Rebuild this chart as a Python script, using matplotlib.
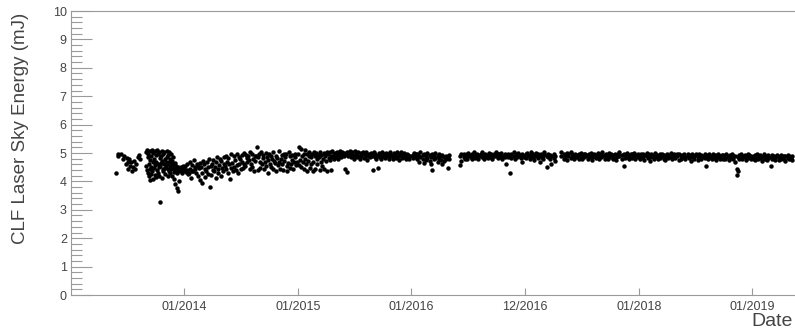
import matplotlib
matplotlib.use('Agg')
import matplotlib.pyplot as plt
from matplotlib.ticker import MultipleLocator

plt.rcParams['font.family'] = ['Liberation Sans', 'DejaVu Sans']

# Fecha en años decimales y energía en mJ, un disparo por entrada (2013-2015)
t_2013 = [2013.398, 2013.417, 2013.423, 2013.446, 2013.461, 2013.474, 2013.488, 2013.497, 2013.505, 2013.511,
          2013.519, 2013.527, 2013.534, 2013.540, 2013.549, 2013.556, 2013.566, 2013.577, 2013.594, 2013.602,
          2013.612,
          2013.665, 2013.668, 2013.672, 2013.676, 2013.679, 2013.683, 2013.685, 2013.689, 2013.692, 2013.697,
          2013.699, 2013.702, 2013.705, 2013.708, 2013.712, 2013.714, 2013.718, 2013.721, 2013.724, 2013.727,
          2013.731, 2013.734, 2013.736, 2013.741, 2013.744, 2013.747, 2013.751, 2013.753, 2013.757, 2013.760,
          2013.764, 2013.767, 2013.770, 2013.774, 2013.776, 2013.781, 2013.783, 2013.787, 2013.790, 2013.793,
          2013.797, 2013.800, 2013.803, 2013.806, 2013.810, 2013.813, 2013.815, 2013.819, 2013.823, 2013.826,
          2013.829, 2013.832, 2013.836, 2013.838, 2013.842, 2013.846, 2013.849, 2013.851, 2013.855, 2013.858,
          2013.862, 2013.865, 2013.868, 2013.872, 2013.875, 2013.879, 2013.881, 2013.885, 2013.888, 2013.892,
          2013.895, 2013.898, 2013.902, 2013.905, 2013.908, 2013.911, 2013.915, 2013.918, 2013.922, 2013.925,
          2013.929, 2013.932, 2013.935, 2013.938, 2013.942, 2013.945, 2013.949, 2013.952, 2013.956, 2013.960,
          2013.964, 2013.968, 2013.972, 2013.977, 2013.981, 2013.986, 2013.990, 2013.994, 2013.998]
e_2013 = [4.28, 4.97, 4.88, 4.98, 4.78, 4.90, 4.62, 4.84, 4.70, 4.45,
          4.80, 4.55, 4.68, 4.38, 4.50, 4.72, 4.42, 4.60, 4.86, 4.94,
          4.78,
          5.02, 4.55, 4.40, 5.10, 4.30, 4.85, 4.95, 4.18, 4.62, 5.08,
          4.45, 4.75, 4.05, 4.90, 4.25, 4.52, 5.12, 4.35, 4.68, 4.10,
          5.00, 4.48, 4.80, 5.06, 4.22, 4.58, 4.92, 4.15, 4.70, 4.40,
          5.10, 4.30, 4.62, 4.98, 4.50, 5.05, 4.20, 4.82, 3.28, 4.55,
          4.88, 4.65, 5.08, 4.12, 4.72, 4.42, 4.95, 4.35, 4.60, 5.04,
          4.48, 4.78, 4.25, 4.70, 4.52, 5.06, 4.62, 4.85, 4.18, 4.45,
          4.92, 4.38, 5.02, 4.68, 4.28, 4.80, 4.55, 4.96, 4.42, 4.62,
          4.20, 4.72, 4.48, 4.85, 4.32, 4.58, 4.08, 4.65, 4.42, 3.92,
          4.55, 4.38, 3.78, 4.30, 4.48, 3.65, 4.52, 4.40, 4.02, 4.45,
          4.35, 4.48, 4.42, 4.50, 4.38, 4.30, 4.45, 4.55, 4.40]

t_2014 = [2014.004, 2014.010, 2014.017, 2014.022, 2014.030, 2014.036, 2014.041, 2014.049, 2014.055, 2014.061,
          2014.068, 2014.073, 2014.081, 2014.086, 2014.093, 2014.099, 2014.106, 2014.112, 2014.119, 2014.125,
          2014.131, 2014.138, 2014.144, 2014.150, 2014.157, 2014.162, 2014.170, 2014.176, 2014.181, 2014.189,
          2014.195, 2014.201, 2014.208, 2014.213, 2014.221, 2014.227, 2014.233, 2014.240, 2014.246, 2014.252,
          2014.259, 2014.264, 2014.272, 2014.278, 2014.284, 2014.291, 2014.297, 2014.303, 2014.310, 2014.315,
          2014.323, 2014.329, 2014.334, 2014.342, 2014.348, 2014.354, 2014.361, 2014.366, 2014.373, 2014.380,
          2014.386, 2014.391, 2014.399, 2014.405, 2014.412, 2014.417, 2014.424, 2014.431, 2014.436, 2014.443,
          2014.449, 2014.456, 2014.462, 2014.468, 2014.475, 2014.481, 2014.487, 2014.494, 2014.500, 2014.507,
          2014.513, 2014.519, 2014.526, 2014.532, 2014.538, 2014.545, 2014.551, 2014.558, 2014.563, 2014.570,
          2014.577, 2014.583, 2014.589, 2014.596, 2014.602, 2014.608, 2014.615, 2014.621, 2014.628, 2014.634,
          2014.640, 2014.647, 2014.653, 2014.659, 2014.666, 2014.672, 2014.679, 2014.685, 2014.691, 2014.698,
          2014.704, 2014.711, 2014.717, 2014.723, 2014.730, 2014.736, 2014.742, 2014.749, 2014.755, 2014.762,
          2014.768, 2014.774, 2014.781, 2014.787, 2014.794, 2014.800, 2014.806, 2014.813, 2014.819, 2014.826,
          2014.832, 2014.838, 2014.845, 2014.851, 2014.858, 2014.864, 2014.871, 2014.877, 2014.883, 2014.890,
          2014.896, 2014.903, 2014.909, 2014.915, 2014.922, 2014.928, 2014.935, 2014.941, 2014.948, 2014.954,
          2014.960, 2014.967, 2014.973, 2014.980, 2014.986, 2014.993]
e_2014 = [4.48, 4.55, 4.32, 4.40, 4.62, 4.25, 4.28, 4.70, 4.45, 4.12,
          4.58, 4.35, 4.38, 4.75, 4.50, 4.42, 4.28, 4.62, 4.20, 4.55,
          4.48, 4.65, 4.05, 4.52, 3.95, 4.30, 4.72, 4.60, 4.15, 4.45,
          4.38, 4.68, 4.25, 4.50, 4.78, 3.80, 4.55, 4.22, 4.62, 4.40,
          4.75, 4.35, 4.50, 4.12, 4.68, 4.85, 4.45, 4.28, 4.58, 4.80,
          4.20, 4.72, 4.48, 4.38, 4.85, 4.62, 4.55, 4.42, 4.90, 4.70,
          4.30, 4.82, 4.60, 4.10, 4.48, 4.95, 4.65, 4.35, 4.88, 4.52,
          4.75, 4.40, 4.95, 4.58, 4.30, 4.62, 4.85, 4.78, 4.45, 4.92,
          4.70, 4.48, 5.00, 4.60, 4.55, 4.92, 4.82, 4.68, 4.88, 4.75,
          4.42, 5.02, 4.62, 4.50, 4.98, 4.80, 4.35, 4.72, 4.90, 4.88,
          5.20, 4.40, 4.85, 4.95, 4.68, 4.48, 5.05, 4.60, 4.82, 4.92,
          4.45, 4.70, 5.00, 4.55, 4.85, 4.30, 4.75, 4.98, 4.62, 4.88,
          4.50, 4.80, 4.42, 5.05, 4.72, 4.65, 4.90, 4.35, 4.82, 4.58,
          4.68, 5.08, 4.45, 4.78, 4.92, 4.60, 4.40, 4.98, 4.72, 4.85,
          4.95, 4.55, 4.38, 4.65, 5.02, 4.88, 4.48, 4.62, 4.75, 4.92,
          4.45, 4.70, 4.85, 4.95, 4.58, 4.68]

t_2015 = [2015.003, 2015.009, 2015.015, 2015.020, 2015.027, 2015.032, 2015.039, 2015.044, 2015.051, 2015.056,
          2015.062, 2015.068, 2015.074, 2015.080, 2015.085, 2015.092, 2015.097, 2015.103, 2015.109, 2015.115,
          2015.121, 2015.126, 2015.133, 2015.138, 2015.145, 2015.150, 2015.156, 2015.162, 2015.168, 2015.174,
          2015.180, 2015.185, 2015.192, 2015.197, 2015.203, 2015.209, 2015.215, 2015.221, 2015.227, 2015.232,
          2015.239, 2015.244, 2015.250, 2015.256, 2015.262, 2015.268, 2015.274, 2015.280, 2015.285, 2015.291,
          2015.297, 2015.303, 2015.309, 2015.315, 2015.320, 2015.327, 2015.332, 2015.338, 2015.344, 2015.350,
          2015.356, 2015.362, 2015.368, 2015.373, 2015.380, 2015.385, 2015.391, 2015.397, 2015.403, 2015.409,
          2015.416, 2015.424, 2015.430, 2015.437, 2015.445, 2015.452, 2015.459, 2015.466, 2015.474, 2015.481,
          2015.488, 2015.496, 2015.503, 2015.510, 2015.517, 2015.525, 2015.532, 2015.539, 2015.546, 2015.554,
          2015.561, 2015.568, 2015.575, 2015.583, 2015.590, 2015.597, 2015.604, 2015.612, 2015.619, 2015.626,
          2015.633, 2015.641, 2015.648, 2015.655, 2015.662, 2015.670, 2015.677, 2015.684, 2015.691, 2015.699,
          2015.706, 2015.713, 2015.720, 2015.728, 2015.735, 2015.742, 2015.749, 2015.757, 2015.764, 2015.771,
          2015.778, 2015.786, 2015.793, 2015.800, 2015.807, 2015.815, 2015.822, 2015.829, 2015.836, 2015.844,
          2015.851, 2015.858, 2015.865, 2015.873, 2015.880, 2015.887, 2015.894, 2015.902, 2015.909, 2015.916,
          2015.923, 2015.931, 2015.938, 2015.945, 2015.952, 2015.960, 2015.967, 2015.974, 2015.981, 2015.989]
e_2015 = [4.95, 4.58, 5.22, 4.75, 4.50, 5.15, 4.88, 4.68, 4.95, 4.42,
          5.12, 4.80, 4.60, 4.98, 4.38, 4.72, 4.88, 5.02, 4.48, 4.85,
          4.62, 4.95, 4.35, 4.70, 5.05, 4.88, 4.45, 5.00, 4.78, 4.62,
          4.92, 4.85, 4.40, 5.05, 4.70, 4.92, 4.55, 4.80, 5.00, 4.45,
          4.95, 4.88, 4.72, 5.02, 4.38, 4.95, 4.82, 4.75, 5.05, 4.90,
          4.40, 5.08, 4.85, 4.95, 4.78, 5.00, 4.90, 4.85, 5.04, 4.92,
          4.80, 4.98, 4.88, 5.06, 4.92, 4.85, 5.02, 4.95, 4.88, 5.00,
          4.42, 4.95, 4.32, 5.05, 4.88, 4.98, 5.08, 4.85, 4.95, 5.02,
          4.90, 4.80, 5.06, 4.92, 4.98, 4.85, 5.05, 4.90, 4.78, 5.00,
          4.88, 4.95, 5.05, 4.82, 4.96, 4.90, 5.02, 4.75, 4.88, 4.98,
          4.85, 4.92, 5.00, 4.88, 4.40, 5.05, 4.86, 4.95, 4.80, 4.90,
          4.47, 5.00, 4.85, 4.92, 4.78, 5.04, 4.88, 4.95, 4.82, 4.86,
          5.00, 4.98, 4.90, 4.80, 4.95, 5.05, 4.88, 4.92, 4.78, 4.85,
          5.00, 4.96, 4.82, 5.02, 4.90, 4.88, 4.75, 4.95, 5.04, 4.82,
          4.92, 5.00, 4.86, 4.90, 4.78, 4.96, 4.85, 4.92, 4.80, 4.88]

# 2016-2019: fecha y los disparos registrados en torno a ella
dates_2016 = [2016.01, 2016.02, 2016.04, 2016.05, 2016.07, 2016.08, 2016.10, 2016.11,
              2016.13, 2016.14, 2016.16, 2016.17, 2016.18, 2016.20, 2016.21, 2016.23,
              2016.24, 2016.26, 2016.27, 2016.29, 2016.30, 2016.32, 2016.33,
              2016.43, 2016.44, 2016.46, 2016.47, 2016.49, 2016.50, 2016.52, 2016.53,
              2016.55, 2016.56, 2016.58, 2016.59, 2016.61, 2016.62, 2016.64, 2016.65,
              2016.67, 2016.68, 2016.70, 2016.71, 2016.73, 2016.74, 2016.76, 2016.77,
              2016.79, 2016.80, 2016.82, 2016.83, 2016.85, 2016.87, 2016.88, 2016.90,
              2016.91, 2016.93, 2016.94, 2016.96, 2016.97, 2016.99]
energy_2016 = [[4.92, 4.82], [5.00, 4.88], [4.85, 4.95], [4.98, 4.78], [4.90, 4.70],
               [5.02, 4.85], [4.80, 4.92], [4.95, 4.65], [4.88, 4.75], [5.00, 4.82],
               [4.72, 4.92], [4.85, 4.60], [4.40, 4.95], [4.90, 4.78], [4.82, 5.00],
               [4.68, 4.90], [4.95, 4.80], [4.75, 4.88], [4.92, 4.62], [4.85, 4.72],
               [4.90, 4.78], [4.47, 4.85], [4.80, 4.92],
               [4.58, 4.88], [4.95, 4.72], [4.85, 4.98], [4.92, 4.80], [4.78, 4.95],
               [5.00, 4.88], [4.85, 4.92], [4.95, 4.78], [4.88, 5.02], [4.90, 4.82],
               [4.98, 4.86], [4.80, 4.92], [4.95, 4.88], [5.02, 4.85], [4.90, 4.78],
               [4.86, 4.96], [4.92, 4.82], [5.00, 4.88], [4.85, 4.95], [4.78, 4.92],
               [4.95, 4.88], [4.90, 5.02], [4.82, 4.96], [4.95, 4.86], [5.00, 4.90],
               [4.88, 4.78], [4.95, 4.85], [4.92, 4.62], [4.86, 4.98], [4.30, 4.90],
               [4.95, 4.82], [5.02, 4.88], [4.90, 4.78], [4.96, 4.85], [4.88, 5.00],
               [4.82, 4.92], [4.95, 4.70], [4.90, 4.86]]

dates_2017 = [2017.01, 2017.02, 2017.04, 2017.05, 2017.07, 2017.08, 2017.10, 2017.11,
              2017.13, 2017.14, 2017.16, 2017.17, 2017.19, 2017.20, 2017.22, 2017.23,
              2017.25, 2017.26, 2017.32, 2017.34, 2017.35, 2017.37, 2017.38, 2017.40,
              2017.41, 2017.43, 2017.44, 2017.46, 2017.47, 2017.49, 2017.50, 2017.52,
              2017.53, 2017.55, 2017.56, 2017.58, 2017.59, 2017.61, 2017.62, 2017.64,
              2017.65, 2017.67, 2017.68, 2017.70, 2017.71, 2017.73, 2017.74, 2017.76,
              2017.77, 2017.79, 2017.80, 2017.82, 2017.83, 2017.85, 2017.87, 2017.88,
              2017.90, 2017.91, 2017.93, 2017.94, 2017.96, 2017.97, 2017.99]
energy_2017 = [[4.95, 4.82], [4.88, 5.00], [4.92, 4.78], [5.02, 4.86], [4.85, 4.95],
               [4.90, 4.75], [5.00, 4.88], [4.82, 4.95], [4.92, 4.70], [4.98, 4.85],
               [4.88, 4.78], [4.95, 5.02], [4.50, 4.90], [4.85, 4.96], [4.92, 4.80],
               [4.60, 4.88], [4.95, 4.82], [4.90, 4.72], [5.02, 4.88], [4.78, 4.95],
               [4.92, 4.85], [5.00, 4.75], [4.88, 4.95], [4.82, 5.02], [4.95, 4.86],
               [4.90, 4.78], [4.98, 4.85], [4.86, 4.92], [4.95, 4.80], [4.88, 5.00],
               [4.92, 4.78], [4.85, 4.96], [4.98, 4.88], [4.80, 4.92], [4.95, 4.85],
               [4.90, 5.00], [4.86, 4.75], [4.96, 4.88], [4.82, 4.92], [5.00, 4.86],
               [4.90, 4.78], [4.95, 4.85], [4.88, 5.02], [4.80, 4.92], [4.96, 4.86],
               [4.90, 4.78], [5.00, 4.88], [4.85, 4.95], [4.92, 4.80], [4.98, 4.88],
               [4.86, 4.75], [4.95, 4.90], [4.88, 5.02], [4.80, 4.92], [4.55, 4.95],
               [4.90, 4.82], [5.00, 4.86], [4.92, 4.78], [4.86, 4.96], [4.95, 4.82],
               [4.88, 5.00], [4.78, 4.92], [4.95, 4.85]]

dates_2018 = [2018.01, 2018.02, 2018.04, 2018.05, 2018.07, 2018.08, 2018.10, 2018.11,
              2018.13, 2018.14, 2018.16, 2018.17, 2018.19, 2018.20, 2018.22, 2018.23,
              2018.25, 2018.26, 2018.28, 2018.29, 2018.31, 2018.32, 2018.34, 2018.35,
              2018.37, 2018.38, 2018.40, 2018.41, 2018.43, 2018.44, 2018.46, 2018.47,
              2018.49, 2018.50, 2018.52, 2018.53, 2018.55, 2018.56, 2018.58, 2018.59,
              2018.61, 2018.62, 2018.64, 2018.65, 2018.67, 2018.68, 2018.70, 2018.71,
              2018.73, 2018.74, 2018.76, 2018.77, 2018.79, 2018.80, 2018.82, 2018.83,
              2018.85, 2018.86, 2018.87, 2018.88, 2018.90, 2018.91, 2018.93, 2018.94,
              2018.96, 2018.97, 2018.99]
energy_2018 = [[4.90, 4.80], [4.98, 4.86], [4.85, 4.95], [4.92, 4.76], [5.00, 4.88],
               [4.82, 4.95], [4.90, 4.72], [4.96, 4.85], [4.88, 4.78], [4.95, 5.00],
               [4.85, 4.92], [4.78, 4.90], [4.95, 4.82], [4.88, 4.98], [4.92, 4.80],
               [4.86, 4.75], [4.96, 4.88], [4.82, 4.92], [5.00, 4.86], [4.90, 4.78],
               [4.85, 4.95], [4.92, 4.82], [4.88, 4.98], [4.95, 4.76], [4.80, 4.90],
               [4.92, 4.85], [4.98, 4.88], [4.86, 4.78], [4.95, 4.90], [4.82, 4.92],
               [4.90, 4.72], [4.95, 4.85], [4.88, 4.80], [4.92, 4.98], [4.85, 4.76],
               [4.95, 4.88], [4.80, 4.92], [4.90, 4.86], [4.96, 4.82], [4.55, 4.88],
               [4.92, 4.78], [4.86, 4.95], [4.90, 4.80], [4.95, 4.85], [4.82, 4.92],
               [4.88, 4.75], [4.95, 4.86], [4.90, 4.80], [4.85, 4.92], [4.92, 4.78],
               [4.80, 4.88], [4.95, 4.86], [4.88, 4.76], [4.92, 4.82], [4.85, 4.95],
               [4.78, 4.90], [4.88, 4.68], [4.45, 4.22], [4.35, 4.85], [4.92, 4.78],
               [4.86, 4.95], [4.80, 4.90], [4.92, 4.85], [4.88, 4.76], [4.95, 4.82],
               [4.85, 4.92], [4.90, 4.78]]

dates_2019 = [2019.01, 2019.02, 2019.04, 2019.05, 2019.07, 2019.08, 2019.10, 2019.11,
              2019.13, 2019.14, 2019.16, 2019.17, 2019.19, 2019.20, 2019.22, 2019.23,
              2019.25, 2019.26, 2019.28, 2019.29, 2019.31, 2019.32, 2019.34, 2019.35]
energy_2019 = [[4.88, 4.80], [4.92, 4.75], [4.85, 4.95], [4.78, 4.90], [4.92, 4.82],
               [4.86, 4.72], [4.95, 4.85], [4.80, 4.90], [4.88, 4.76], [4.92, 4.82],
               [4.85, 4.55], [4.78, 4.92], [4.90, 4.85], [4.82, 4.75], [4.88, 4.92],
               [4.76, 4.85], [4.92, 4.80], [4.85, 4.88], [4.78, 4.90], [4.88, 4.72],
               [4.82, 4.92], [4.90, 4.78], [4.85, 4.80], [4.76, 4.88]]

tick_years = [2014, 2015, 2016, 2017, 2018, 2019]
tick_labels = ['01/2014', '01/2015', '01/2016', '12/2016', '01/2018', '01/2019']


def expandir(fechas, grupos):
    t, e = [], []
    for f, vals in zip(fechas, grupos):
        for v in vals:
            t.append(f)
            e.append(v)
    return t, e


t_all = t_2013 + t_2014 + t_2015
e_all = e_2013 + e_2014 + e_2015
for fechas, grupos in [(dates_2016, energy_2016), (dates_2017, energy_2017),
                       (dates_2018, energy_2018), (dates_2019, energy_2019)]:
    t, e = expandir(fechas, grupos)
    t_all += t
    e_all += e

text_col = '#444444'
line_col = '#9a9a9a'

fig = plt.figure(figsize=(7.95, 3.35), dpi=100)
ax = fig.add_axes([71 / 795, 1 - 295 / 335, 1 - 71 / 795, 284 / 335])

ax.plot(t_all, e_all, 'o', color='black', markersize=3.2, markeredgewidth=0)

ax.set_xlim(2013.006, 2019.374)
ax.set_ylim(0, 10)

ax.set_xticks(tick_years)
ax.set_xticklabels(tick_labels)
ax.yaxis.set_major_locator(MultipleLocator(1))
ax.yaxis.set_minor_locator(MultipleLocator(0.2))

ax.tick_params(axis='y', which='major', direction='in', length=15, width=0.8,
               color=line_col, labelcolor=text_col, labelsize=9, pad=3)
ax.tick_params(axis='y', which='minor', direction='in', length=8, width=0.8,
               color=line_col)
ax.tick_params(axis='x', which='major', direction='in', length=5, width=0.8,
               color=line_col, labelcolor=text_col, labelsize=9, pad=4)

for lado in ['left', 'bottom', 'top']:
    ax.spines[lado].set_color(line_col)
    ax.spines[lado].set_linewidth(0.8)
ax.spines['right'].set_visible(False)

fig.text(0.026, 0.618, 'CLF Laser Sky Energy (mJ)', rotation=90, ha='center',
         va='center', fontsize=13.5, color=text_col)
fig.text(0.997, 1 - 321 / 335, 'Date', ha='right', va='center', fontsize=14,
         color=text_col)

fig.savefig('out.png', dpi=100)
